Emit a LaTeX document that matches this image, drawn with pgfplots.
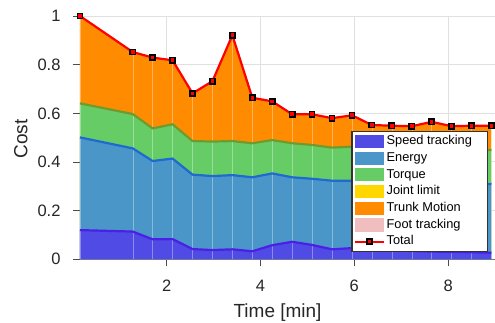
\documentclass[border=0pt]{standalone}
\usepackage{fontspec}
\setmainfont{Liberation Sans}
\usepackage{pgfplots}
\usepackage{pgfplotstable}
\pgfplotsset{compat=1.18}
\definecolor{speedfill}{RGB}{80,75,228}
\definecolor{speedline}{RGB}{74,32,230}
\definecolor{energyfill}{RGB}{74,150,200}
\definecolor{energyline}{RGB}{31,106,208}
\definecolor{torquefill}{RGB}{102,204,102}
\definecolor{torqueline}{RGB}{110,155,46}
\definecolor{trunkfill}{RGB}{255,140,0}
\definecolor{jointfill}{RGB}{255,215,0}
\definecolor{footfill}{RGB}{240,190,190}
\definecolor{gridgray}{RGB}{224,224,224}
\pgfplotsset{
  myarea/.style={legend image code/.code={\fill[##1] (0pt,-6.6pt) rectangle (29pt,6.6pt);}},
  myline/.style={legend image code/.code={\draw[mark repeat=2,mark phase=2,##1] plot coordinates {(0pt,0pt) (14.5pt,0pt) (29pt,0pt)};}},
}
% cumulative tops of the stacked layers
\pgfplotstableread{
x      speed  energy torque total
0.151  0.120  0.501  0.641  1.000
1.275  0.114  0.456  0.597  0.852
1.700  0.082  0.404  0.538  0.829
2.125  0.083  0.414  0.555  0.818
2.550  0.042  0.348  0.486  0.682
2.975  0.038  0.342  0.484  0.732
3.400  0.041  0.346  0.486  0.921
3.825  0.033  0.337  0.477  0.664
4.250  0.058  0.353  0.490  0.649
4.675  0.072  0.337  0.477  0.596
5.100  0.059  0.331  0.470  0.596
5.525  0.041  0.323  0.459  0.580
5.950  0.046  0.323  0.463  0.592
6.375  0.040  0.321  0.461  0.552
6.800  0.036  0.319  0.459  0.549
7.225  0.034  0.317  0.457  0.547
7.650  0.032  0.315  0.455  0.565
8.075  0.030  0.313  0.453  0.547
8.500  0.029  0.311  0.451  0.549
8.925  0.027  0.309  0.449  0.549
}\data
\begin{document}
\begin{tikzpicture}
\useasboundingbox (-80pt,-62.7pt) rectangle (415pt,259.3pt);
\begin{axis}[
  scale only axis, width=415pt, height=243.3pt,
  xmin=0.151, xmax=9.0, ymin=0, ymax=1,
  axis lines*=left,
  axis line style={draw=black!55, line width=0.8pt},
  tick align=outside, major tick length=7pt,
  tick style={draw=black!70, line width=0.8pt},
  xtick={2,4,6,8}, ytick={0,0.2,0.4,0.6,0.8,1},
  grid=major, grid style={draw=gridgray, line width=1pt},
  /pgf/number format/assume math mode=true,
  ticklabel style={font=\fontsize{16.5}{19}\selectfont, text=black!85},
  xticklabel style={yshift=-10pt},
  yticklabel style={xshift=-9pt},
  xlabel={Time [min]}, ylabel={Cost},
  label style={font=\fontsize{19}{22}\selectfont, text=black!85},
  xlabel style={at={(axis description cs:0.476,-0.2384)}, anchor=base},
  ylabel style={at={(axis description cs:-0.127,0.494)}, anchor=base},
  legend style={at={(rel axis cs:0.9824,0.5273)}, anchor=north east,
    draw=black!80, line width=1.2pt, fill=white,
    font=\fontsize{12.8}{14}\selectfont,
    inner xsep=2pt, inner ysep=1.5pt, row sep=0pt,
    nodes={inner ysep=2.3pt, inner xsep=1.5pt, text height=9.3pt, text depth=2.8pt}},
  legend cell align=left,
]
% areas
\addplot[draw=none, fill=trunkfill, forget plot] table[x=x,y=total] {\data} \closedcycle;
\addplot[draw=none, fill=torquefill, forget plot] table[x=x,y=torque] {\data} \closedcycle;
\addplot[draw=none, fill=energyfill, forget plot] table[x=x,y=energy] {\data} \closedcycle;
\addplot[draw=none, fill=speedfill, forget plot] table[x=x,y=speed] {\data} \closedcycle;
% faint white lines
\addplot[ycomb, draw=white, draw opacity=0.35, line width=0.4pt, forget plot] table[x=x,y=total] {\data};
% layer boundaries
\addplot[draw=speedline, line width=2.2pt, forget plot] table[x=x,y=speed] {\data};
\addplot[draw=energyline, line width=2.2pt, forget plot] table[x=x,y=energy] {\data};
\addplot[draw=torqueline, line width=2.2pt, forget plot] table[x=x,y=torque] {\data};
\addplot[draw=red, line width=2.2pt, mark=square*, mark size=2.6pt,
  mark options={draw=black, fill=red, line width=1.6pt}, forget plot] table[x=x,y=total] {\data};
% legend
\addlegendimage{myarea, fill=speedfill, draw=none}
\addlegendentry{\makebox[97pt][l]{Speed tracking}}
\addlegendimage{myarea, fill=energyfill, draw=none}
\addlegendentry{Energy}
\addlegendimage{myarea, fill=torquefill, draw=none}
\addlegendentry{Torque}
\addlegendimage{myarea, fill=jointfill, draw=none}
\addlegendentry{Joint limit}
\addlegendimage{myarea, fill=trunkfill, draw=none}
\addlegendentry{Trunk Motion}
\addlegendimage{myarea, fill=footfill, draw=none}
\addlegendentry{Foot tracking}
\addlegendimage{myline, draw=red, line width=2.2pt, mark=square*, mark size=2.6pt,
  mark options={draw=black, fill=red, line width=1.6pt}}
\addlegendentry{Total}
\end{axis}
\end{tikzpicture}
\end{document}
